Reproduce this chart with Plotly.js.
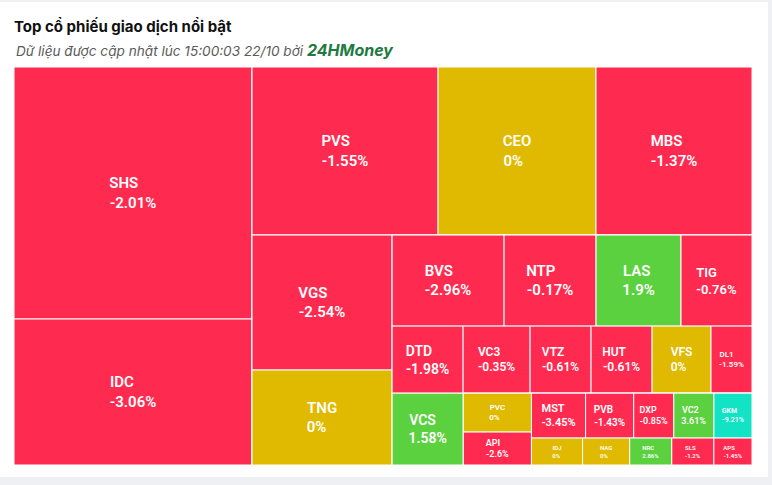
<!DOCTYPE html>
<html><head><meta charset="utf-8">
<script src="https://cdn.plot.ly/plotly-3.0.1.min.js"></script>
<style>
html,body{margin:0;padding:0;background:#eef0f3;width:772px;height:485px;overflow:hidden}
#chart{position:absolute;left:0;top:2px;width:768px;height:475px;background:#fff}
</style>
</head><body><div id="chart"></div>
<script>
// Tickers, % change and traded value (relative size of each tile)
const tickers = ["SHS","IDC","PVS","CEO","MBS","VGS","TNG","BVS","NTP","LAS","TIG",
                 "DTD","VC3","VTZ","HUT","VFS","DL1","VCS","PVC","API",
                 "MST","PVB","DXP","VC2","GKM","IDJ","NAG","NRC","SLS","APS"];
const changes = [-2.01,-3.06,-1.55,0,-1.37,-2.54,0,-2.96,-0.17,1.9,-0.76,
                 -1.98,-0.35,-0.61,-0.61,0,-1.59,1.58,0,-2.6,
                 -3.45,-1.43,-0.85,3.61,-9.21,0,0,2.86,-1.2,-1.45];
const tradeValues = [59976,34748,31248,26544,26208,18900,13300,10192,8372,7735,6461,
                     4757,4489,4087,4087,3953,2747,5112,2652,2244,
                     2430,2160,1800,1800,1710,1377,1269,1134,1134,1026];
const RED="#FF2A4F", YEL="#DFBA00", GRN="#5CD13F", CYN="#12E3C4";
const colors = [RED,RED,RED,YEL,RED,RED,YEL,RED,RED,GRN,RED,
                RED,RED,RED,RED,YEL,RED,GRN,YEL,RED,
                RED,RED,RED,GRN,CYN,YEL,YEL,GRN,RED,RED];
// label font size per tile (style)
const fontSizes = [15,15,15,15,15,15,15,15,15,15,13,
                   14,12,12,12,12,8,14,8,9,
                   11,10,9,9,7,6,6,6,6,6];
// grouping that reproduces the tile arrangement
const layoutTree = [["SHS","IDC"],
  [["PVS","CEO","MBS"],
   [["VGS","TNG"],
    [["BVS","NTP","LAS","TIG"],
     ["DTD","VC3","VTZ","HUT","VFS","DL1"],
     ["VCS",["PVC","API"],[["MST","PVB","DXP","VC2","GKM"],["IDJ","NAG","NRC","SLS","APS"]]]]]]];

const cv = document.createElement('canvas').getContext('2d');
function tw(s,size){ cv.font = "600 "+size+"px Roboto"; return cv.measureText(s).width; }
function makeText(label, ch, size){
  const nb = "\u00a0";
  let a = label, b = String(ch) + "%";
  let wa = tw(a,size), wb = tw(b,size); const wn = tw(nb,size);
  while (wa + wn/2 < wb) { a += nb; wa += wn; }
  while (wb + wn/2 < wa) { b += nb; wb += wn; }
  return a + "<br>" + b;
}

const ids=[], parents=[], labels=[], vals=[], texts=[], cols=[], sizes=[];
let gCount = 0;
function walk(node, parent){
  if (typeof node === "string"){
    const i = tickers.indexOf(node);
    ids.push(node); parents.push(parent); labels.push(node); vals.push(tradeValues[i]);
    cols.push(colors[i]); sizes.push(fontSizes[i]);
    texts.push(makeText(node, changes[i], fontSizes[i]));
  } else {
    const id = "g" + (gCount++);
    ids.push(id); parents.push(parent); labels.push(id); vals.push(0);
    cols.push("#ffffff"); sizes.push(10); texts.push("");
    node.forEach(ch => walk(ch, id));
  }
}
walk(layoutTree, "");

const font = {family:"Roboto, sans-serif", size:sizes, color:"#ffffff", weight:600};
const trace = {
  type:"treemap", ids:ids, labels:labels, parents:parents, values:vals, text:texts,
  textinfo:"text", branchvalues:"remainder", sort:false,
  tiling:{packing:"slice-dice", pad:0},
  marker:{colors:cols, line:{color:"#ffffff", width:1}, pad:{t:0,l:0,r:0,b:0}},
  pathbar:{visible:false}, leaf:{opacity:1},
  textposition:"middle center",
  textfont:font, insidetextfont:font,
  hoverinfo:"skip"
};
const layout = {
  width:768, height:475, margin:{l:14,r:16,t:65,b:12},
  paper_bgcolor:"#ffffff",
  title:{text:"<b>Top cổ phiếu giao dịch nổi bật</b>",
         font:{family:"Inter, sans-serif", size:15, color:"#111111"},
         x:14/768, xanchor:"left", xref:"container",
         y:1-25/475, yanchor:"middle", yref:"container"},
  annotations:[{
    text:"<i>Dữ liệu được cập nhật lúc 15:00:03 22/10 bởi </i><b><i><span style='color:#1d7a40;font-size:16px'>24HMoney</span></i></b>",
    xref:"paper", yref:"paper", x:0, y:1+17/398, xanchor:"left", yanchor:"middle",
    showarrow:false, font:{family:"Inter, sans-serif", size:13.6, color:"#5a5a5a"}
  }]
};
Plotly.newPlot("chart", [trace], layout, {staticPlot:true, displayModeBar:false});
</script>
</body></html>
